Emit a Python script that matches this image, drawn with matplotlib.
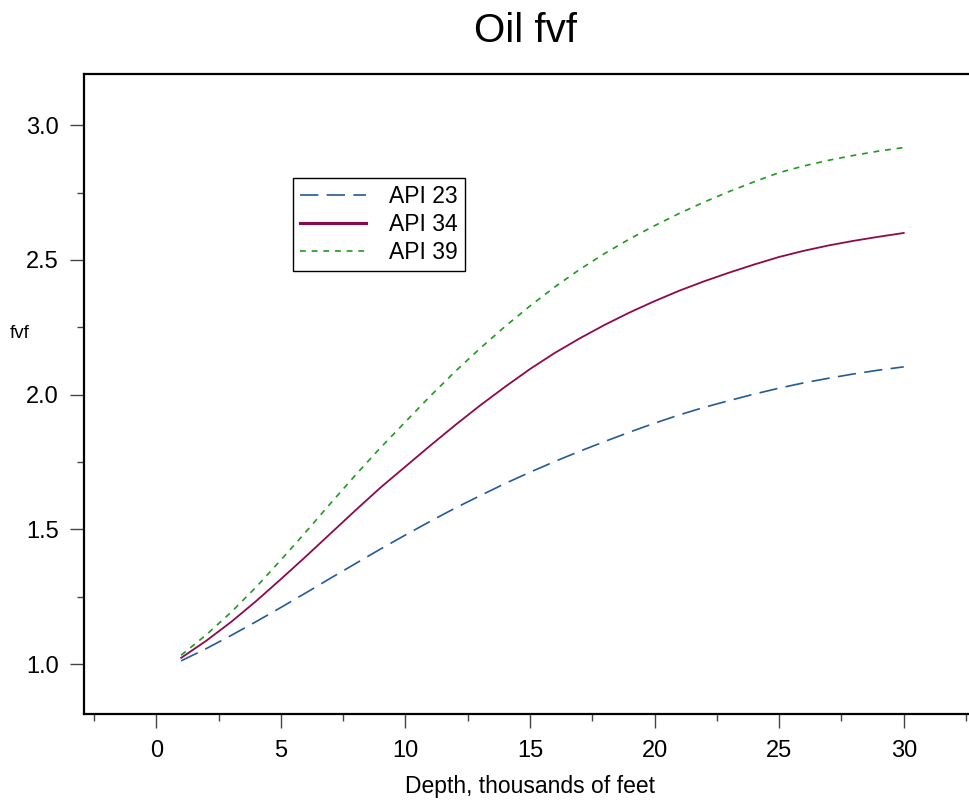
import numpy as np
import matplotlib
matplotlib.use("Agg")
import matplotlib.pyplot as plt
from matplotlib.ticker import MultipleLocator

plt.rcParams['font.family'] = ['Liberation Sans', 'DejaVu Sans']

# oil formation volume factor vs depth, three crude gravities
depth = np.arange(1, 31)
api23 = [1.012, 1.057, 1.106, 1.157, 1.210, 1.264, 1.319, 1.373, 1.427, 1.479,
         1.530, 1.579, 1.625, 1.670, 1.712, 1.752, 1.790, 1.826, 1.861, 1.894,
         1.925, 1.953, 1.978, 2.002, 2.024, 2.044, 2.061, 2.077, 2.091, 2.103]
api34 = [1.023, 1.086, 1.156, 1.233, 1.315, 1.399, 1.485, 1.571, 1.655, 1.733,
         1.811, 1.887, 1.960, 2.029, 2.095, 2.155, 2.209, 2.259, 2.305, 2.347,
         2.386, 2.421, 2.453, 2.483, 2.511, 2.534, 2.554, 2.571, 2.586, 2.600]
api39 = [1.033, 1.108, 1.192, 1.285, 1.386, 1.490, 1.597, 1.702, 1.803, 1.899,
         1.995, 2.086, 2.172, 2.253, 2.329, 2.400, 2.465, 2.524, 2.578, 2.627,
         2.673, 2.715, 2.754, 2.790, 2.824, 2.849, 2.870, 2.888, 2.904, 2.917]
labels = ['API 23', 'API 34', 'API 39']
colors = ['#235a98', '#8c0a4c', '#1f9a1f']

fig = plt.figure(figsize=(9.69, 8.07), dpi=100)
ax = fig.add_axes([0.0867, 0.1152, 0.9205, 0.7931])

ax.plot(depth, api23, color=colors[0], lw=1.2, dashes=(11, 5), label=labels[0])
ax.plot(depth, api34, color=colors[1], lw=1.3, label=labels[1])
ax.plot(depth, api39, color=colors[2], lw=1.2, dashes=(3.5, 3.5), label=labels[2])

ax.set_xlim(-2.9, 32.9)
ax.set_ylim(0.8145, 3.19)
ax.xaxis.set_major_locator(MultipleLocator(5))
ax.xaxis.set_minor_locator(MultipleLocator(2.5))
ax.yaxis.set_major_locator(MultipleLocator(0.5))
ax.yaxis.set_minor_locator(MultipleLocator(0.25))
ax.yaxis.set_major_formatter(matplotlib.ticker.FormatStrFormatter('%.1f'))
ax.tick_params(which='major', direction='out', length=10, width=1, color='#444444',
               labelsize=17)
ax.tick_params(which='minor', direction='out', length=5, width=1, color='#444444')
ax.tick_params(axis='x', which='major', pad=9)
ax.tick_params(axis='y', which='major', pad=8)

for s in ['left', 'top', 'bottom', 'right']:
    ax.spines[s].set_linewidth(1.6)

ax.set_xlabel('Depth, thousands of feet', fontsize=16.5, labelpad=9)
ax.set_ylabel('fvf', fontsize=13.5, rotation=0, va='center', ha='center')
ax.yaxis.set_label_coords(-0.072, 0.595)

fig.text(0.542, 0.962, 'Oil fvf', fontsize=29, ha='center', va='center')

leg = ax.legend(loc='upper left', bbox_to_anchor=(0.234, 0.838), fontsize=16.5,
                frameon=True, fancybox=False, edgecolor='black', framealpha=1,
                handlelength=2.9, handletextpad=1.0, borderpad=0.3,
                borderaxespad=0, labelspacing=0.22)
leg.get_frame().set_linewidth(1.0)
leg.legend_handles[1].set_linewidth(2.2)

fig.savefig('out.png', dpi=100)
